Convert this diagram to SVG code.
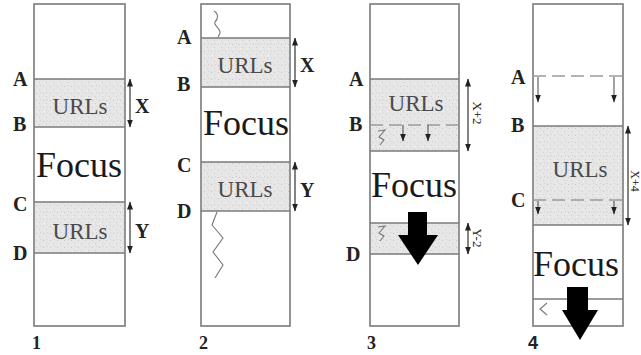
<svg xmlns="http://www.w3.org/2000/svg" width="641" height="355" viewBox="0 0 641 355">
  <defs>
    <pattern id="speck" width="7" height="7" patternUnits="userSpaceOnUse">
      <rect width="7" height="7" fill="#e6e6e6"/>
      <rect x="1" y="2" width="1" height="1" fill="#c8c8c8"/>
      <rect x="4" y="5" width="1" height="1" fill="#cfcfcf"/>
      <rect x="5" y="1" width="1" height="1" fill="#d2d2d2"/>
      <rect x="2" y="6" width="1" height="1" fill="#f4f4f4"/>
    </pattern>
    <marker id="dh" viewBox="0 0 8 6" refX="7.5" refY="3" markerWidth="8" markerHeight="6" markerUnits="userSpaceOnUse" orient="auto-start-reverse">
      <path d="M0,0 L8,3 L0,6 Z" fill="#222"/>
    </marker>
  </defs>
  <style>
    .frame { fill: #fff; stroke: #7a7a7a; stroke-width: 1.6; }
    .band { fill: url(#speck); stroke: none; }
    .hl { stroke: #7a7a7a; stroke-width: 1.6; fill: none; }
    .dash { stroke: #9a9a9a; stroke-width: 1.6; fill: none; stroke-dasharray: 13 6; }
    .dim { stroke: #333; stroke-width: 1.2; fill: none; marker-start: url(#dh); marker-end: url(#dh); }
    .drop { stroke: #555; stroke-width: 1.1; fill: none; marker-end: url(#dh); }
    .sq { stroke: #777; stroke-width: 1.1; fill: none; }
    .lbl { font-family: "Liberation Serif", "Times New Roman", serif; font-weight: bold; font-size: 20px; fill: #222; }
    .urls { font-family: "Liberation Serif", "Times New Roman", serif; font-size: 23px; fill: #4a4a4a; text-anchor: middle; }
    .focus { font-family: "Liberation Serif", "Times New Roman", serif; font-size: 36px; fill: #1a1a1a; text-anchor: middle; }
    .num { font-family: "Liberation Serif", "Times New Roman", serif; font-weight: bold; font-size: 18px; fill: #222; }
    .rot { font-family: "Liberation Serif", "Times New Roman", serif; font-size: 13px; fill: #222; text-anchor: middle; }
    .big { fill: #000; }
  </style>

  <g id="panel1">
    <rect class="frame" x="34" y="4" width="91" height="322"/>
    <rect class="band" x="35" y="79" width="89" height="48"/>
    <rect class="band" x="35" y="202" width="89" height="51"/>
    <line class="hl" x1="34" y1="79" x2="125" y2="79"/>
    <line class="hl" x1="34" y1="127" x2="125" y2="127"/>
    <line class="hl" x1="34" y1="202" x2="125" y2="202"/>
    <line class="hl" x1="34" y1="253" x2="125" y2="253"/>
    <text class="urls" x="80" y="114">URLs</text>
    <text class="focus" x="79" y="177">Focus</text>
    <text class="urls" x="80" y="239">URLs</text>
    <text class="lbl" x="13" y="86">A</text>
    <text class="lbl" x="13" y="131">B</text>
    <text class="lbl" x="13" y="211">C</text>
    <text class="lbl" x="13" y="260">D</text>
    <text class="lbl" x="135" y="113">X</text>
    <text class="lbl" x="135" y="238">Y</text>
    <text class="num" x="32" y="349">1</text>
  </g>

  <g id="panel2">
    <rect class="frame" x="201" y="4" width="89" height="322"/>
    <rect class="band" x="202" y="38" width="87" height="49"/>
    <rect class="band" x="202" y="162" width="87" height="49"/>
    <line class="hl" x1="201" y1="38" x2="290" y2="38"/>
    <line class="hl" x1="201" y1="87" x2="290" y2="87"/>
    <line class="hl" x1="201" y1="162" x2="290" y2="162"/>
    <line class="hl" x1="201" y1="211" x2="290" y2="211"/>
    <path class="sq" d="M214,11 C219,14 218,19 215,22 C213,25 221,29 220,33 L218,37"/>
    <path class="sq" d="M217,212 L212,225 L223,238 L213,252 L223,265 L215,278"/>
    <text class="urls" x="245" y="73">URLs</text>
    <text class="focus" x="246" y="135">Focus</text>
    <text class="urls" x="245" y="197">URLs</text>
    <text class="lbl" x="177" y="44">A</text>
    <text class="lbl" x="177" y="91">B</text>
    <text class="lbl" x="177" y="172">C</text>
    <text class="lbl" x="177" y="218">D</text>
    <text class="lbl" x="300" y="72">X</text>
    <text class="lbl" x="300" y="197">Y</text>
    <text class="num" x="199" y="349">2</text>
  </g>

  <g id="panel3">
    <rect class="frame" x="370" y="4" width="89" height="322"/>
    <rect class="band" x="371" y="79" width="87" height="72"/>
    <rect class="band" x="371" y="223" width="87" height="31"/>
    <line class="hl" x1="370" y1="79" x2="459" y2="79"/>
    <line class="dash" x1="370" y1="125" x2="459" y2="125"/>
    <line class="hl" x1="370" y1="151" x2="459" y2="151"/>
    <line class="hl" x1="370" y1="223" x2="459" y2="223"/>
    <line class="hl" x1="370" y1="254" x2="459" y2="254"/>
    <path class="sq" d="M378,131 L385,130 L379,137 L384,140 L380,145"/>
    <path class="sq" d="M378,227 L385,226 L379,233 L384,236 L380,241"/>
    <text class="urls" x="416" y="111">URLs</text>
    <text class="focus" x="414" y="197">Focus</text>
    <text class="lbl" x="349" y="86">A</text>
    <text class="lbl" x="349" y="131">B</text>
    <text class="lbl" x="346" y="261">D</text>
    <text class="rot" transform="translate(473,113) rotate(90)">X+2</text>
    <text class="rot" transform="translate(473,238) rotate(90)">Y-2</text>
    <path class="big" d="M408,212 L427,212 L427,235 L438,235 L418,265 L398,235 L408,235 Z"/>
    <text class="num" x="367" y="349">3</text>
  </g>

  <g id="panel4">
    <rect class="frame" x="533" y="4" width="90" height="322"/>
    <rect class="band" x="534" y="126" width="88" height="99"/>
    <line class="dash" x1="533" y1="76" x2="623" y2="76"/>
    <line class="hl" x1="533" y1="126" x2="623" y2="126"/>
    <line class="dash" x1="533" y1="200" x2="623" y2="200"/>
    <line class="hl" x1="533" y1="225" x2="623" y2="225"/>
    <line class="hl" x1="533" y1="299" x2="623" y2="299"/>
    <path class="sq" d="M547,303 L540,309 L547,315"/>
    <text class="urls" x="580" y="177">URLs</text>
    <text class="focus" x="576" y="276">Focus</text>
    <text class="lbl" x="511" y="84">A</text>
    <text class="lbl" x="511" y="132">B</text>
    <text class="lbl" x="511" y="207">C</text>
    <text class="rot" transform="translate(631,181) rotate(90)" style="font-size:12px">X+4</text>
    <path class="big" d="M567,287 L588,287 L588,310 L598,310 L580,340 L562,310 L567,310 Z"/>
    <text class="num" x="528" y="349" style="font-family:'Liberation Sans',Arial,sans-serif">4</text>
  </g>

  <g id="connectors">
    <line class="dim" x1="130" y1="79" x2="130" y2="127"/>
    <line class="dim" x1="130" y1="202" x2="130" y2="253"/>
    <line class="dim" x1="295" y1="38" x2="295" y2="87"/>
    <line class="dim" x1="295" y1="162" x2="295" y2="211"/>
    <line class="dim" x1="468" y1="79" x2="468" y2="151"/>
    <line class="dim" x1="468" y1="223" x2="468" y2="254"/>
    <line class="dim" x1="628" y1="126" x2="628" y2="225"/>
    <line class="drop" x1="403" y1="125" x2="403" y2="141"/>
    <line class="drop" x1="428" y1="125" x2="428" y2="141"/>
    <line class="drop" x1="538" y1="77" x2="538" y2="102"/>
    <line class="drop" x1="614" y1="77" x2="614" y2="102"/>
    <line class="drop" x1="538" y1="201" x2="538" y2="214"/>
    <line class="drop" x1="614" y1="201" x2="614" y2="214"/>
  </g>
</svg>
